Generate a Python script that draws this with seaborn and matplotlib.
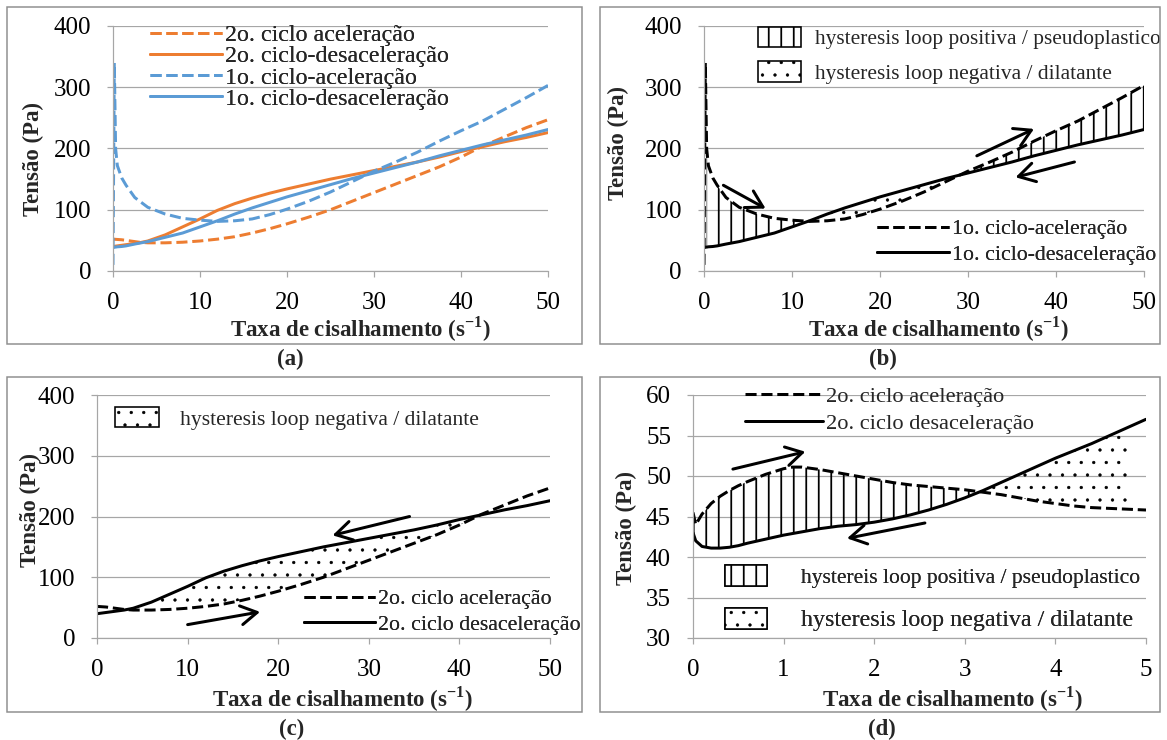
import numpy as np
import pandas as pd
import matplotlib
matplotlib.use("Agg")
import matplotlib.pyplot as plt
import seaborn as sns
from matplotlib.patches import Rectangle
from matplotlib.lines import Line2D

# ---------------- data ----------------
# 1st cycle (panels a, b)
x_c1 = [0, 0.15, 0.3, 0.5, 1, 1.5, 2.5, 4, 6, 8, 10, 12, 14, 16, 18, 20, 22.5, 25,
        27.5, 30, 32.5, 35, 37.5, 40, 42.5, 45, 47.5, 50]
c1_acel = [10, 340, 200, 172, 152, 140, 120, 104, 93, 86, 83, 81, 82, 85, 92, 101, 114,
           129, 146, 163, 178, 194, 212, 229, 245, 264, 283, 303]
c1_desacel = [39, 39, 39, 39.5, 40, 41, 44, 48, 55, 62, 72, 82, 93, 103, 112, 121, 131,
              141, 151, 160, 169, 178, 188, 197, 206, 214, 222, 231]

# 2nd cycle (panels a, c)
x_c2 = [0, 1, 2, 3, 4, 6, 8, 10, 12, 14, 16, 18, 20, 22.5, 25, 27.5, 30, 32.5, 35,
        37.5, 40, 42.5, 45, 47.5, 50]
c2_acel = [52, 51, 49, 47, 46, 46, 47, 49, 52, 56, 62, 69, 77, 88, 100, 114, 128, 142,
           156, 170, 186, 204, 219, 234, 247]
c2_desacel = [40, 42, 44, 46, 49, 59, 72, 85, 99, 110, 119, 127, 134, 142, 150, 157,
              164, 171, 178, 186, 195, 203, 211, 218, 226]

# 2nd cycle, low shear rate zoom (panel d)
x_d = [0, 0.03, 0.1, 0.2, 0.3, 0.4, 0.5, 0.6, 0.8, 1.0, 1.1, 1.2, 1.4, 1.6, 1.8, 2.0,
       2.2, 2.4, 2.6, 2.8, 3.0, 3.2, 3.4, 3.6, 3.8, 4.0, 4.2, 4.4, 4.6, 4.8, 5.0]
d_acel = [45.5, 44.0, 45.3, 46.6, 47.5, 48.2, 48.8, 49.3, 50.2, 50.9, 51.1, 51.1, 50.8,
          50.4, 50.0, 49.6, 49.2, 48.9, 48.7, 48.5, 48.3, 48.0, 47.7, 47.3, 46.9, 46.6,
          46.3, 46.1, 46.0, 45.9, 45.8]
d_desacel = [43.0, 42.0, 41.3, 41.1, 41.1, 41.2, 41.4, 41.7, 42.2, 42.7, 42.9, 43.1, 43.5,
             43.8, 44.0, 44.3, 44.7, 45.2, 45.8, 46.5, 47.3, 48.2, 49.2, 50.2, 51.2, 52.2,
             53.1, 54.0, 55.0, 56.0, 57.0]

# direction arrows (tail, head) in data units
arrows_b = [((2.2, 140), (7.0, 102)), ((31.0, 188), (37.5, 232)), ((42.1, 178), (35.4, 153))]
arrows_c = [((34.5, 200), (26.0, 169)), ((10.0, 22), (18.0, 43))]
arrows_d = [((0.44, 50.85), (1.24, 53.0)), ((2.56, 44.2), (1.70, 42.3))]

labels_a = ["2o. ciclo aceleração", "2o. ciclo-desaceleração",
            "1o. ciclo-aceleração", "1o. ciclo-desaceleração"]
labels_b = ["1o. ciclo-aceleração", "1o. ciclo-desaceleração"]
labels_cd = ["2o. ciclo aceleração", "2o. ciclo desaceleração"]
lab_pos = "hysteresis loop positiva / pseudoplastico"
lab_pos_d = "hystereis loop positiva / pseudoplastico"
lab_neg = "hysteresis loop negativa / dilatante"
xlabel = "Taxa de cisalhamento (s$^{\\mathbf{-1}}$)"
ylabel = "Tensão (Pa)"

ORANGE = "#ED7D31"
BLUE = "#5B9BD5"
GRID = "#a6a6a6"

# ---------------- style ----------------
sns.set_theme(style="white")
plt.rcParams["font.family"] = ["Liberation Serif", "DejaVu Serif"]
plt.rcParams["mathtext.fontset"] = "custom"
plt.rcParams["mathtext.rm"] = "Liberation Serif"
plt.rcParams["mathtext.bf"] = "Liberation Serif:bold"
plt.rcParams["hatch.linewidth"] = 1.7
plt.rcParams["hatch.color"] = "black"

DPI = 75
W, H = 1167, 740
fig = plt.figure(figsize=(W / DPI, H / DPI), dpi=DPI)
fig.patch.set_facecolor("white")


def pt(v):
    return v * 72.0 / DPI


LW = pt(3.0)
TICK_FS = 24
LAB_FS = 22
LINE_HLW = 1.7
DOT_HLW = 0.7


def hatch_lw(artist, lw):
    """Apply a hatch line width to one artist (read by the renderer at draw time)."""
    if hasattr(artist, "set_hatch_linewidth"):
        artist.set_hatch_linewidth(lw)
    orig = artist.draw

    def draw(renderer, *args, **kwargs):
        with plt.rc_context({"hatch.linewidth": lw}):
            return orig(renderer, *args, **kwargs)
    artist.draw = draw


def add_ax(l, r, t, b):
    return fig.add_axes([l / W, 1 - b / H, (r - l) / W, (b - t) / H])


def frame(x0, x1, y0, y1):
    fig.add_artist(Rectangle((x0 / W, 1 - y1 / H), (x1 - x0) / W, (y1 - y0) / H,
                             transform=fig.transFigure, fill=False,
                             edgecolor="#8f8f8f", lw=pt(1.5)))


def style(ax, rect, xlim, ylim, xt, yt, xl_c, yl_c):
    l, r, t, b = rect
    ax.set_xlim(*xlim)
    ax.set_ylim(*ylim)
    ax.set_xticks(xt)
    ax.set_yticks(yt)
    ax.set_axisbelow(True)
    ax.grid(False)
    ax.yaxis.grid(True, color=GRID, lw=pt(1.2))
    for s in ["top", "right"]:
        ax.spines[s].set_visible(False)
    for s in ["left", "bottom"]:
        ax.spines[s].set_color(GRID)
        ax.spines[s].set_linewidth(pt(1.2))
    ax.tick_params(axis="x", bottom=True, direction="out", length=pt(6), width=pt(1.2),
                   color=GRID, labelsize=TICK_FS, pad=pt(15), labelcolor="black")
    ax.tick_params(axis="y", left=True, direction="out", length=pt(6), width=pt(1.2),
                   color=GRID, labelsize=TICK_FS, pad=pt(16), labelcolor="black")
    ax.set_xlabel(xlabel, fontsize=LAB_FS, fontweight="bold")
    ax.set_ylabel(ylabel, fontsize=LAB_FS, fontweight="bold")
    ax.xaxis.label.set_va("center")
    ax.yaxis.label.set_va("center")
    ax.xaxis.set_label_coords((xl_c[0] - l) / (r - l), (b - xl_c[1]) / (b - t))
    ax.yaxis.set_label_coords((yl_c[0] - l) / (r - l), (b - yl_c[1]) / (b - t))


def line(ax, x, y, color, ls):
    df = pd.DataFrame({"x": x, "y": y})
    sns.lineplot(data=df, x="x", y="y", ax=ax, color=color, linewidth=LW, linestyle=ls,
                 estimator=None, sort=False, legend=False)


def fill(ax, x, y1, y2, where, hatch):
    coll = ax.fill_between(x, y1, y2, where=where, interpolate=True,
                           facecolor="none", edgecolor="black", hatch=hatch, lw=0)
    hatch_lw(coll, DOT_HLW if hatch == "." else LINE_HLW)
    return coll


def arrows(ax, arrs):
    for tail, head in arrs:
        ax.annotate("", xy=head, xytext=tail,
                    arrowprops=dict(arrowstyle="->,head_length=0.6,head_width=0.35",
                                    lw=LW, color="black", mutation_scale=26,
                                    shrinkA=0, shrinkB=0))


def line_legend(ax, handles, labels, x, y, fs, hl_px, sp_px):
    fs_px = fs * DPI / 72.0
    leg = ax.legend(handles, labels, loc="upper left",
                    bbox_to_anchor=(x / W, 1 - y / H), bbox_transform=fig.transFigure,
                    frameon=False, fontsize=fs, handlelength=hl_px / fs_px,
                    handletextpad=3 / fs_px, labelspacing=sp_px / fs_px,
                    borderpad=0, borderaxespad=0)
    ax.add_artist(leg)
    return leg


def patch_legend(ax, hatches, labels, x, y, fs, w_px, h_px, pad_px, sp_px):
    fs_px = fs * DPI / 72.0
    handles = [Rectangle((0, 0), 1, 1, facecolor="white", edgecolor="black", hatch=h,
                         lw=pt(1.6)) for h in hatches]
    leg = ax.legend(handles, labels, loc="upper left",
                    bbox_to_anchor=(x / W, 1 - y / H), bbox_transform=fig.transFigure,
                    frameon=False, fontsize=fs, handlelength=w_px / fs_px,
                    handleheight=h_px / fs_px, handletextpad=pad_px / fs_px,
                    labelspacing=sp_px / fs_px, borderpad=0, borderaxespad=0)
    for h, art in zip(hatches, leg.legend_handles):
        hatch_lw(art, DOT_HLW if h == "." else LINE_HLW)
    ax.add_artist(leg)
    return leg


# ---------------- panel frames & labels ----------------
frame(7, 582, 7, 344)
frame(600, 1160, 7, 344)
frame(7, 582, 377, 712)
frame(600, 1160, 377, 712)
for txt, xc, yc in [("(a)", 290, 359), ("(b)", 883, 359), ("(c)", 292, 729), ("(d)", 882, 729)]:
    fig.text(xc / W, 1 - yc / H, txt, ha="center", va="center", fontsize=22,
             fontweight="bold")

xc1 = np.array(x_c1); a1 = np.array(c1_acel); d1 = np.array(c1_desacel)
xc2 = np.array(x_c2); a2 = np.array(c2_acel); d2 = np.array(c2_desacel)
xd = np.array(x_d); ad = np.array(d_acel); dd = np.array(d_desacel)

# ---------------- (a) ----------------
ra = (113, 548, 26, 271)
ax = add_ax(*ra)
line(ax, x_c2, c2_acel, ORANGE, "--")
line(ax, x_c2, c2_desacel, ORANGE, "-")
line(ax, x_c1, c1_acel, BLUE, "--")
line(ax, x_c1, c1_desacel, BLUE, "-")
style(ax, ra, (0, 50), (0, 400), range(0, 51, 10), range(0, 401, 100), (360, 329), (33, 159))
hs = [Line2D([], [], color=ORANGE, lw=LW, ls="--"), Line2D([], [], color=ORANGE, lw=LW),
      Line2D([], [], color=BLUE, lw=LW, ls="--"), Line2D([], [], color=BLUE, lw=LW)]
line_legend(ax, hs, labels_a, 150, 24.5, 23, 72, -0.6)

# ---------------- (b) ----------------
rb = (704, 1144, 26, 271)
ax = add_ax(*rb)
fill(ax, xc1, a1, d1, (xc1 >= 0.3) & (a1 >= d1), "|")
fill(ax, xc1, a1, d1, (d1 >= a1), ".")
line(ax, x_c1, c1_acel, "black", "--")
line(ax, x_c1, c1_desacel, "black", "-")
arrows(ax, arrows_b)
style(ax, rb, (0, 50), (0, 400), range(0, 51, 10), range(0, 401, 100), (938, 329), (618, 143))
patch_legend(ax, ["|", "."], [lab_pos, lab_neg], 758, 27, 20.5, 43, 23, 14, 12)
line_legend(ax, [Line2D([], [], color="black", lw=LW, ls="--"),
                 Line2D([], [], color="black", lw=LW)], labels_b, 877, 219, 21, 72, 5)

# ---------------- (c) ----------------
rc = (97, 550, 395, 638)
ax = add_ax(*rc)
fill(ax, xc2, a2, d2, (d2 >= a2), ".")
line(ax, x_c2, c2_acel, "black", "--")
line(ax, x_c2, c2_desacel, "black", "-")
arrows(ax, arrows_c)
style(ax, rc, (0, 50), (0, 400), range(0, 51, 10), range(0, 401, 100), (342, 699), (30, 510))
patch_legend(ax, ["."], [lab_neg], 115, 407, 20.8, 44, 23, 21, 0)
line_legend(ax, [Line2D([], [], color="black", lw=LW, ls="--"),
                 Line2D([], [], color="black", lw=LW)], labels_cd, 304, 589, 21, 71, 5.5)

# ---------------- (d) ----------------
rd = (693, 1146, 395, 638)
ax = add_ax(*rd)
fill(ax, xd, ad, dd, (ad >= dd), "|")
fill(ax, xd, ad, dd, (dd >= ad) & (xd <= 4.95), ".")
line(ax, x_d, d_acel, "black", "--")
line(ax, x_d, d_desacel, "black", "-")
arrows(ax, arrows_d)
style(ax, rd, (0, 5), (30, 60), range(0, 6), range(30, 61, 5), (952, 699), (626, 528))
line_legend(ax, [Line2D([], [], color="black", lw=LW, ls="--"),
                 Line2D([], [], color="black", lw=LW)], labels_cd, 745, 386, 21.5, 78, 6.5)
leg = patch_legend(ax, ["|", "."], [lab_pos_d, lab_neg], 725, 565, 20.7, 42, 24, 34, 20)
leg.get_texts()[1].set_fontsize(23)

fig.savefig("out.png", dpi=DPI, facecolor="white")
